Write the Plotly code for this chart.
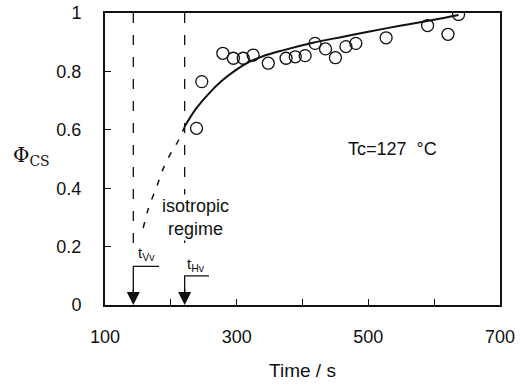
import plotly.graph_objects as go

# measured data points (open circles)
time_pts = [239, 247, 279, 295, 310, 325, 348, 375, 389, 404, 419, 435, 450, 466, 481, 527, 590, 621, 637]
phi_pts = [0.605, 0.765, 0.862, 0.845, 0.845, 0.856, 0.828, 0.845, 0.850, 0.854, 0.896, 0.877, 0.847, 0.885, 0.896, 0.915, 0.957, 0.927, 0.995]

# solid fitted curve
fit_time = [221, 237, 257, 277, 297, 317, 340, 370, 416, 460, 498, 550, 598, 637]
fit_phi = [0.611, 0.668, 0.722, 0.767, 0.802, 0.830, 0.852, 0.872, 0.898, 0.918, 0.935, 0.957, 0.976, 0.993]

# dashed extrapolation (isotropic regime)
extrap_time = [158, 166, 178.5, 188.6, 201.3, 212, 221]
extrap_phi = [0.263, 0.331, 0.405, 0.468, 0.525, 0.565, 0.611]

# characteristic times
t_vv = 143
t_hv = 221
t_vv_label_end = 182
t_hv_label_end = 258
phi_vv_arrow = 0.132
phi_hv_arrow = 0.100
phi_dash_end = 0.19

x_ticks = [100, 200, 300, 400, 500, 600, 700]
x_tick_text = ["100", "", "300", "", "500", "", "700"]
y_ticks = [0, 0.2, 0.4, 0.6, 0.8, 1]
y_tick_text = ["0", "0.2", "0.4", "0.6", "0.8", "1"]

FONT = "Liberation Sans, Arial, sans-serif"
BLACK = "#111111"

fig = go.Figure()

# vertical dashed lines
for t in (t_vv, t_hv):
    fig.add_trace(go.Scatter(x=[t, t], y=[1, phi_dash_end], mode="lines",
                             line=dict(color=BLACK, width=1.3, dash="10px,12px"),
                             showlegend=False, hoverinfo="skip"))

# L-shaped label lines for arrows
fig.add_trace(go.Scatter(x=[t_vv_label_end, t_vv, t_vv], y=[phi_vv_arrow, phi_vv_arrow, 0.04],
                         mode="lines", line=dict(color=BLACK, width=1.3),
                         showlegend=False, hoverinfo="skip"))
fig.add_trace(go.Scatter(x=[t_hv_label_end, t_hv, t_hv], y=[phi_hv_arrow, phi_hv_arrow, 0.04],
                         mode="lines", line=dict(color=BLACK, width=1.3),
                         showlegend=False, hoverinfo="skip"))

# extrapolated dashed curve
fig.add_trace(go.Scatter(x=extrap_time, y=extrap_phi, mode="lines",
                         line=dict(color=BLACK, width=1.5, dash="6px,9px", shape="spline"),
                         showlegend=False, hoverinfo="skip"))

# fitted solid curve
fig.add_trace(go.Scatter(x=fit_time, y=fit_phi, mode="lines",
                         line=dict(color=BLACK, width=2, shape="spline", smoothing=1),
                         showlegend=False, hoverinfo="skip"))

# data points
fig.add_trace(go.Scatter(x=time_pts, y=phi_pts, mode="markers",
                         marker=dict(symbol="circle-open", size=12, color=BLACK, line=dict(width=1.3)),
                         showlegend=False))

annotations = [
    dict(x=t_vv, y=0, ax=t_vv, ay=0.06, xref="x", yref="y", axref="x", ayref="y",
         text="", showarrow=True, arrowhead=2, arrowsize=2, arrowwidth=1.3, arrowcolor=BLACK,
         standoff=0, startstandoff=0),
    dict(x=t_hv, y=0, ax=t_hv, ay=0.06, xref="x", yref="y", axref="x", ayref="y",
         text="", showarrow=True, arrowhead=2, arrowsize=2, arrowwidth=1.3, arrowcolor=BLACK,
         standoff=0, startstandoff=0),
    dict(x=t_vv + 4, y=0.175, xref="x", yref="y", text="t<sub>Vv</sub>", showarrow=False,
         xanchor="left", yanchor="middle", font=dict(family=FONT, size=15, color=BLACK)),
    dict(x=t_hv + 1, y=0.14, xref="x", yref="y", text="t<sub>Hv</sub>", showarrow=False,
         xanchor="left", yanchor="middle", font=dict(family=FONT, size=15, color=BLACK)),
    dict(x=237, y=0.30, xref="x", yref="y", text="isotropic<br>regime", showarrow=False,
         xanchor="center", yanchor="middle", align="center", bgcolor="white",
         font=dict(family=FONT, size=18, color=BLACK)),
    dict(x=536, y=0.535, xref="x", yref="y", text="Tc=127  °C", showarrow=False,
         xanchor="center", yanchor="middle", font=dict(family=FONT, size=18, color=BLACK)),
    dict(x=-0.238, y=0.51, xref="paper", yref="paper", text="Φ<sub>CS</sub>", showarrow=False,
         xanchor="left", yanchor="middle", font=dict(family="DejaVu Serif, serif", size=20, color=BLACK)),
]

fig.update_layout(
    width=528, height=385,
    margin=dict(l=105, r=28, t=13, b=80),
    paper_bgcolor="white", plot_bgcolor="white",
    font=dict(family=FONT, color=BLACK),
    annotations=annotations,
    xaxis=dict(range=[100, 700], tickvals=x_ticks, ticktext=x_tick_text,
               ticks="inside", ticklen=6, tickwidth=1.3, tickcolor=BLACK,
               showline=True, linecolor=BLACK, linewidth=2, mirror=True,
               showgrid=False, zeroline=False, tickfont=dict(size=18, family=FONT),
               ticklabelstandoff=14, automargin=False,
               title=dict(text="Time / s", font=dict(size=19, family=FONT), standoff=18)),
    yaxis=dict(range=[0, 1], tickvals=y_ticks, ticktext=y_tick_text,
               ticks="inside", ticklen=6, tickwidth=1.3, tickcolor=BLACK,
               showline=True, linecolor=BLACK, linewidth=2, mirror=True,
               showgrid=False, zeroline=False, tickfont=dict(size=18, family=FONT),
               ticklabelstandoff=18, automargin=False),
)

fig.write_html("out.html")
